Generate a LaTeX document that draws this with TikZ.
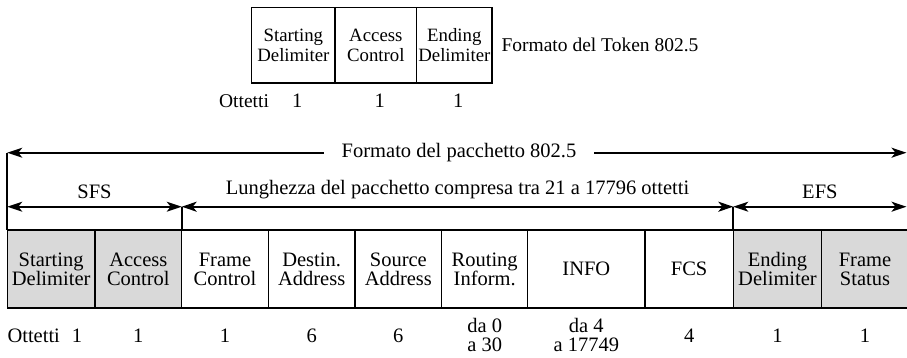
\documentclass[tikz,border=0pt]{standalone}
\usepackage{fontspec}
\setmainfont{Liberation Serif}
\usetikzlibrary{arrows.meta, positioning, calc}

\begin{document}
\begin{tikzpicture}[x=1pt, y=-1pt, font=\fontsize{20.5}{19}\selectfont,
    campo/.style={draw, line width=1.3pt, minimum height=78pt, inner sep=0pt, outer sep=0pt, align=center, anchor=north west},
    grigio/.style={campo, fill=black!15},
    token/.style={campo, minimum height=75.7pt, font=\fontsize{18.8}{19.5}\selectfont},
    linea/.style={line width=1.7pt},
    freccia/.style={linea, -{Stealth[length=15pt, width=10pt, inset=4pt]}},
    doppia/.style={linea, {Stealth[length=15pt, width=10pt, inset=4pt]}-{Stealth[length=15pt, width=10pt, inset=4pt]}}]
    \useasboundingbox (0,0) rectangle (907,357);

    \node[token, minimum width=83.3pt] (tsd) at (251.7,7.3) {Starting\\Delimiter};
    \node[token, minimum width=81.7pt] (tac) at (tsd.north east) {Access\\Control};
    \node[token, minimum width=75.3pt] (ted) at (tac.north east) {Ending\\Delimiter};
    \node[right=6pt of ted, font=\fontsize{19.5}{19}\selectfont] (tok) {Formato del Token 802.5};
    \node[font=\fontsize{19.5}{19}\selectfont] (tott) at (244,101) {Ottetti};
    \node (t1) at ($(tsd.south |- tott)+(4,0)$) {1};
    \node (t2) at ($(tac.south |- tott)+(4,0)$) {1};
    \node (t3) at ($(ted.south |- tott)+(4,0)$) {1};

    \node[grigio, minimum width=87.7pt] (sd) at (7.3,230) {Starting\\Delimiter};
    \node[grigio, minimum width=86.7pt] (ac) at (sd.north east) {Access\\Control};
    \node[campo, minimum width=86.6pt] (fc) at (ac.north east) {Frame\\Control};
    \node[campo, minimum width=86.7pt] (da) at (fc.north east) {Destin.\\Address};
    \node[campo, minimum width=86.7pt] (sa) at (da.north east) {Source\\Address};
    \node[campo, minimum width=86pt] (ri) at (sa.north east) {Routing\\Inform.};
    \node[campo, minimum width=117.3pt] (info) at (ri.north east) {INFO};
    \node[campo, minimum width=88.3pt] (fcs) at (info.north east) {FCS};
    \node[grigio, minimum width=88.4pt] (ed) at (fcs.north east) {Ending\\Delimiter};
    \node[grigio, minimum width=86.6pt] (fs) at (ed.north east) {Frame\\Status};

    \coordinate (sx) at (7.3,152.7);
    \coordinate (dx) at (906.5,152.7);
    \node[inner xsep=18pt] (fmt) at (459,152.7) {Formato del pacchetto 802.5};
    \draw[freccia] (fmt.west) -- (sx);
    \draw[freccia] (fmt.east) -- (dx);
    \draw[linea] (sx) -- (sd.north west);

    \coordinate (a1) at (7.3,206.7);
    \coordinate (a2) at (fc.north west |- a1);
    \coordinate (a3) at (ed.north west |- a1);
    \coordinate (a4) at (dx |- a1);
    \draw[doppia] (a1) -- node[above=4pt] (sfs) {SFS} (a2);
    \draw[doppia] (a2) -- node[above=4pt] (lun) {Lunghezza del pacchetto compresa tra 21 a 17796 ottetti} (a3);
    \draw[doppia] (a3) -- node[above=4pt] (efs) {EFS} (a4);
    \draw[linea] (a2) -- (fc.north west);
    \draw[linea] (a3) -- (ed.north west);

    \node[anchor=west, inner xsep=0pt] (ott) at (7.3,336) {Ottetti};
    \node (o1) at (77,336) {1};
    \node (o2) at (ac.south |- ott) {1};
    \node (o3) at (fc.south |- ott) {1};
    \node (o4) at (da.south |- ott) {6};
    \node (o5) at (sa.south |- ott) {6};
    \node[align=center, inner sep=0pt] (o6) at ($(ri.south |- ott)+(0,-1)$) {da 0\\a 30};
    \node[align=center, inner sep=0pt] (o7) at ($(info.south |- ott)+(0,-1)$) {da 4\\a 17749};
    \node (o8) at (fcs.south |- ott) {4};
    \node (o9) at (ed.south |- ott) {1};
    \node (o10) at (fs.south |- ott) {1};
\end{tikzpicture}
\end{document}
